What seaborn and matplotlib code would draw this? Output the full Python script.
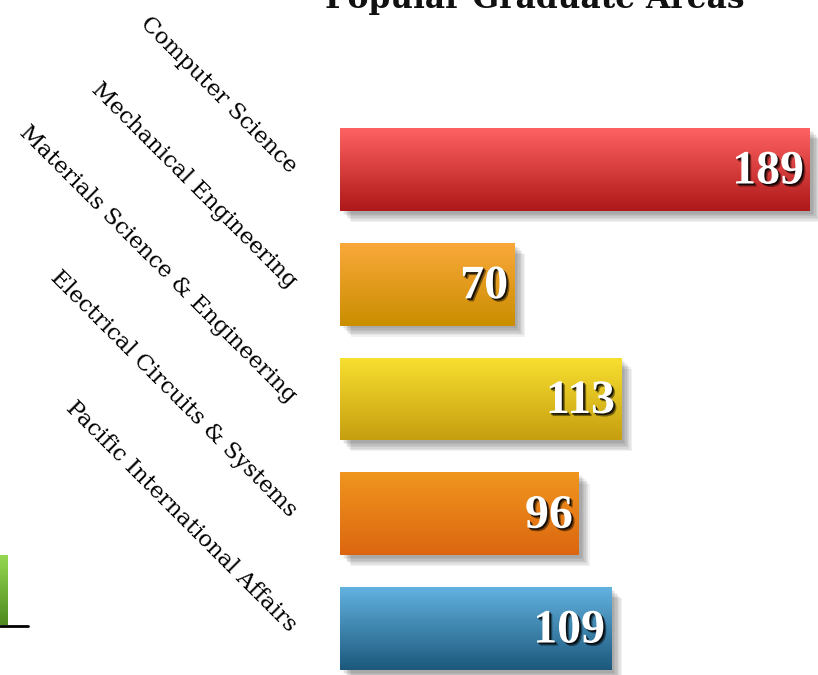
import numpy as np
import matplotlib
matplotlib.use("Agg")
import matplotlib.pyplot as plt
import matplotlib.patheffects as pe
from matplotlib.colors import LinearSegmentedColormap
from matplotlib.lines import Line2D
import seaborn as sns
import pandas as pd

# ---- data ----
title = "Popular Graduate Areas"
categories = ["Computer Science", "Mechanical Engineering",
              "Materials Science & Engineering", "Electrical Circuits & Systems",
              "Pacific International Affairs"]
values = [189, 70, 113, 96, 109]
top_colors = ["#FF6262", "#FAA83A", "#F8E030", "#F0961E", "#62B2E0"]
bottom_colors = ["#AE1818", "#CA8E00", "#C69E10", "#DC6610", "#1C587C"]

sns.set_theme(style="white")
plt.rcParams["font.family"] = ["DejaVu Serif"]

W, H = 818, 675
fig = plt.figure(figsize=(W / 100, H / 100), dpi=100)
ax = fig.add_axes([340 / W, 0, 478 / W, 1])

df = pd.DataFrame({"area": categories, "count": values})
sns.barplot(data=df, x="count", y="area", hue="area", palette=top_colors,
            legend=False, width=0.72, saturation=1, linewidth=0, ax=ax)

shadow = [pe.SimplePatchShadow(offset=(o, -o), shadow_rgbFace="black", alpha=0.055)
          for o in (2, 3, 4, 5, 6, 7, 8)] + [pe.Normal()]
grad = np.linspace(0, 1, 256).reshape(-1, 1)
for p, c1, c2 in zip(ax.patches, top_colors, bottom_colors):
    p.set_path_effects(shadow)
    x0, y0, w, h = p.get_x(), p.get_y(), p.get_width(), p.get_height()
    cmap = LinearSegmentedColormap.from_list("g", [c1, c2])
    im = ax.imshow(grad, cmap=cmap, extent=(x0, x0 + w, y0 + h, y0),
                   aspect="auto", origin="upper", zorder=p.get_zorder() + 0.1)
    im.set_clip_path(p)

for i, v in enumerate(values):
    ax.annotate(str(v), xy=(v, i), xytext=(-6, -2), textcoords="offset pixels",
                ha="right", va="center", color="white", fontsize=34.5,
                fontweight="bold", family=["Liberation Serif"], zorder=10,
                path_effects=[pe.SimplePatchShadow(offset=(2.2, -2.2),
                                                   shadow_rgbFace="black", alpha=0.45),
                              pe.SimplePatchShadow(offset=(1.2, -1.2),
                                                   shadow_rgbFace="black", alpha=0.8),
                              pe.Normal()])

ax.set_xlim(0, 189 * 478 / 470)
ax.set_ylim(4.405, -1.477)
ax.set_xticks([])
ax.set_yticks(range(len(categories)))
ax.set_yticklabels(categories, rotation=-45, ha="right", va="center",
                   rotation_mode="anchor", fontsize=16.3, color="black")
ax.tick_params(axis="y", length=0, pad=34)
ax.set_xlabel("")
ax.set_ylabel("")
sns.despine(ax=ax, left=True, bottom=True)

fig.text(535 / W, 1 - 8 / H, title, ha="center", va="baseline",
         fontsize=22.5, fontweight="bold", color="#111111")

# fragment of neighbouring chart at the lower-left edge
gax = fig.add_axes([0, (H - 625) / H, 8 / W, 70 / H])
gax.imshow(grad, cmap=LinearSegmentedColormap.from_list("gg", ["#96D850", "#4E8A20"]),
           aspect="auto")
gax.axis("off")
fig.add_artist(Line2D([0, 28 / W], [1 - 626 / H] * 2, color="black", lw=2))

fig.savefig("out.png", dpi=100)
